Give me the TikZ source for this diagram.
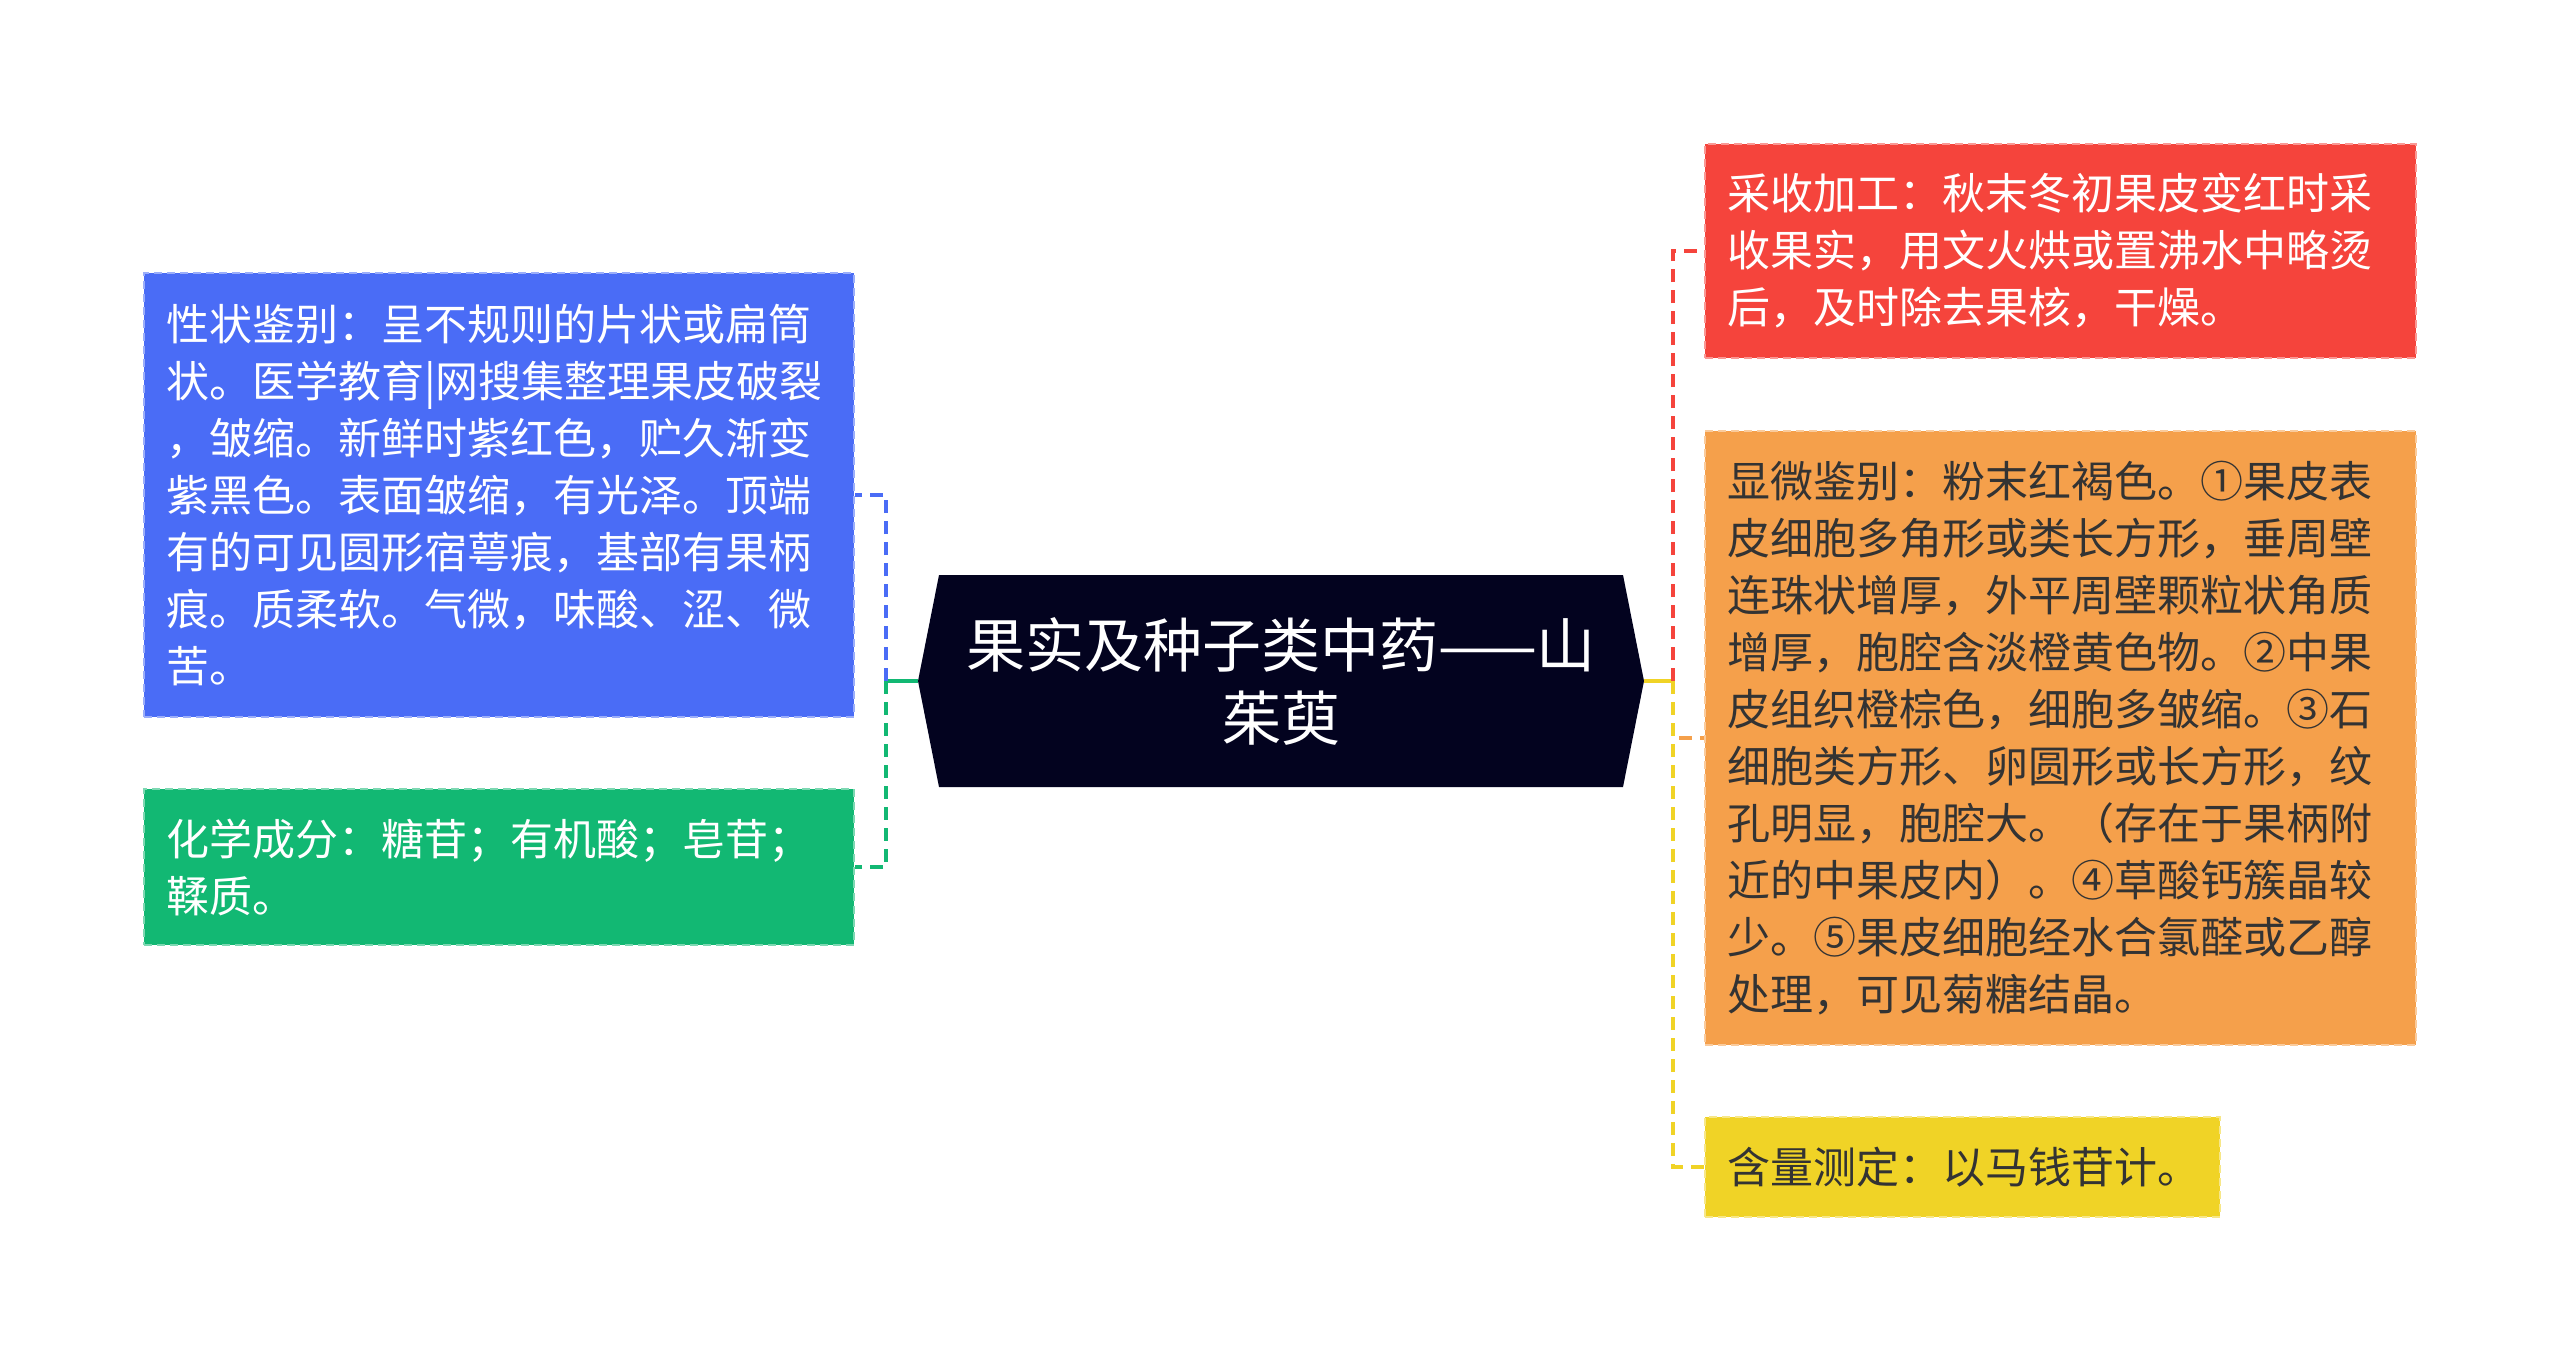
\documentclass[tikz,border=0pt]{standalone}
\usepackage{fontspec}
\newfontfamily\cjk{Noto Sans CJK SC}
\definecolor{cblue}{HTML}{4A6CF6}
\definecolor{cgreen}{HTML}{12B873}
\definecolor{cred}{HTML}{F5443C}
\definecolor{corange}{HTML}{F5A04B}
\definecolor{cyellow}{HTML}{F0D326}
\definecolor{cnavy}{HTML}{03031F}
\definecolor{ctext}{HTML}{333333}
\tikzset{
  box/.style={rectangle, inner xsep=22pt, inner ysep=0pt, align=left,
    font=\cjk\fontsize{43}{57}\selectfont, line width=2.5pt,
    dash pattern=on 8pt off 5pt},
  link/.style={line width=4pt, dash pattern=on 13pt off 8pt},
  stub/.style={line width=4pt},
}
\begin{document}
\begin{tikzpicture}[x=1pt,y=-1pt]
\useasboundingbox (0,0) rectangle (2560,1361);
\fill[white] (0,0) rectangle (2560,1361);

% central topic
\coordinate (cl) at (918,681);
\coordinate (cr) at (1644,681);
\fill[cnavy] (939,575) -- (1623,575) -- (cr) -- (1623,787) -- (939,787) -- (cl) -- cycle;
\node[text=white, align=center, font=\cjk\fontsize{59}{73}\selectfont] (c) at (1281,681)
  {果实及种子类中药——山\\茱萸};

% left boxes
\node[box, fill=cblue, draw=cblue!55!white, text=white,
  minimum width=710pt, minimum height=444pt, text width=666pt] (blue) at (499,495)
  {性状鉴别：呈不规则的片状或扁筒\\
   状。医学教育|网搜集整理果皮破裂\\
   ，皱缩。新鲜时紫红色，贮久渐变\\
   紫黑色。表面皱缩，有光泽。顶端\\
   有的可见圆形宿萼痕，基部有果柄\\
   痕。质柔软。气微，味酸、涩、微\\
   苦。};
\node[box, fill=cgreen, draw=cgreen!55!white, text=white,
  minimum width=710pt, minimum height=156pt, text width=666pt] (green) at (499,867)
  {化学成分：糖苷；有机酸；皂苷；\\
   鞣质。};

% right boxes
\node[box, fill=cred, draw=cred!55!white, text=white,
  minimum width=711pt, minimum height=214pt, text width=667pt] (red) at (2060.5,251)
  {采收加工：秋末冬初果皮变红时采\\
   收果实，用文火烘或置沸水中略烫\\
   后，及时除去果核，干燥。};
\node[box, fill=corange, draw=corange!55!white, text=ctext,
  minimum width=711pt, minimum height=614pt, text width=667pt] (orange) at (2060.5,738)
  {显微鉴别：粉末红褐色。①果皮表\\
   皮细胞多角形或类长方形，垂周壁\\
   连珠状增厚，外平周壁颗粒状角质\\
   增厚，胞腔含淡橙黄色物。②中果\\
   皮组织橙棕色，细胞多皱缩。③石\\
   细胞类方形、卵圆形或长方形，纹\\
   孔明显，胞腔大。（存在于果柄附\\
   近的中果皮内）。④草酸钙簇晶较\\
   少。⑤果皮细胞经水合氯醛或乙醇\\
   处理，可见菊糖结晶。};
\node[box, fill=cyellow, draw=cyellow!55!white, text=ctext,
  minimum width=515pt, minimum height=100pt, text width=471pt] (yellow) at (1962.5,1167)
  {含量测定：以马钱苷计。};

% connectors left
\coordinate (lj) at (886,681);
\draw[stub, cgreen] (cl) -- (lj);
\draw[link, cblue] (lj) |- (blue.east);
\draw[link, cgreen] (lj) |- (green.east);

% connectors right
\coordinate (rj) at (1673,681);
\draw[stub, cyellow] (cr) -- (rj);
\draw[link, cred] (rj) |- (red.west);
\draw[link, corange] (rj) |- (orange.west);
\draw[link, cyellow] (rj) |- (yellow.west);
\end{tikzpicture}
\end{document}
